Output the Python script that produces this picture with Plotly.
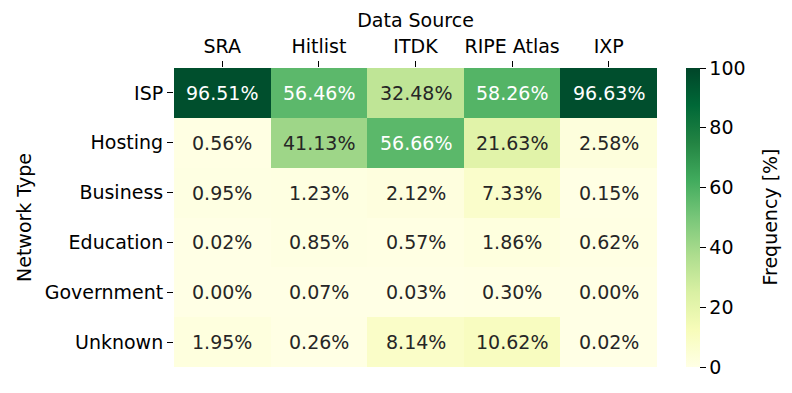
import plotly.graph_objects as go

# Data
sources = ['SRA', 'Hitlist', 'ITDK', 'RIPE Atlas', 'IXP']
net_types = ['ISP', 'Hosting', 'Business', 'Education', 'Government', 'Unknown']
isp = [96.51, 56.46, 32.48, 58.26, 96.63]
hosting = [0.56, 41.13, 56.66, 21.63, 2.58]
business = [0.95, 1.23, 2.12, 7.33, 0.15]
education = [0.02, 0.85, 0.57, 1.86, 0.62]
government = [0.00, 0.07, 0.03, 0.30, 0.00]
unknown = [1.95, 0.26, 8.14, 10.62, 0.02]
cbar_ticks = [0, 20, 40, 60, 80, 100]

z = [isp, hosting, business, education, government, unknown]

font_family = 'DejaVu Sans'
fs = 19
dark_text = '#262626'

fig = go.Figure(
    go.Heatmap(
        z=z, x=sources, y=net_types,
        colorscale='YlGn', zmin=0, zmax=100,
        xgap=0, ygap=0,
        colorbar=dict(
            x=1.06, xanchor='left', xpad=0,
            y=0, yanchor='bottom', ypad=0, len=1, lenmode='fraction',
            thickness=14, outlinewidth=0,
            tickvals=cbar_ticks, ticks='outside', ticklen=6, tickcolor='black',
            tickfont=dict(size=fs, color='black', family=font_family),
        ),
    )
)

# cell labels, white on dark cells as seaborn does
for r, row in enumerate(z):
    for c, v in enumerate(row):
        fig.add_annotation(
            x=sources[c], y=net_types[r], text=f'{v:.2f}%', showarrow=False,
            font=dict(size=fs, family=font_family,
                      color='white' if v > 45 else dark_text),
        )

# colorbar label, placed further right like matplotlib does
fig.add_annotation(
    xref='paper', yref='paper', x=1.232, y=0.5, xanchor='center', yanchor='middle',
    text='Frequency [%]', textangle=-90, showarrow=False,
    font=dict(size=fs, color='black', family=font_family),
)

fig.update_xaxes(
    side='top', ticks='outside', ticklen=6, tickcolor='black',
    showgrid=False, zeroline=False, showline=False, automargin=False,
    tickfont=dict(size=fs, color='black', family=font_family),
    title=dict(text='Data Source', standoff=2,
               font=dict(size=fs, color='black', family=font_family)),
)
fig.update_yaxes(
    autorange='reversed', ticks='outside', ticklen=6, tickcolor='black',
    showgrid=False, zeroline=False, showline=False, automargin=False,
    tickfont=dict(size=fs, color='black', family=font_family),
    title=dict(text='Network Type', standoff=8,
               font=dict(size=fs, color='black', family=font_family)),
)

# page body adds an 8px offset, so margins are shifted by it
fig.update_layout(
    width=792, height=393,
    margin=dict(l=166, r=143, t=60, b=34),
    paper_bgcolor='white', plot_bgcolor='white',
    font=dict(family=font_family, color='black'),
)

fig.write_html('out.html')
